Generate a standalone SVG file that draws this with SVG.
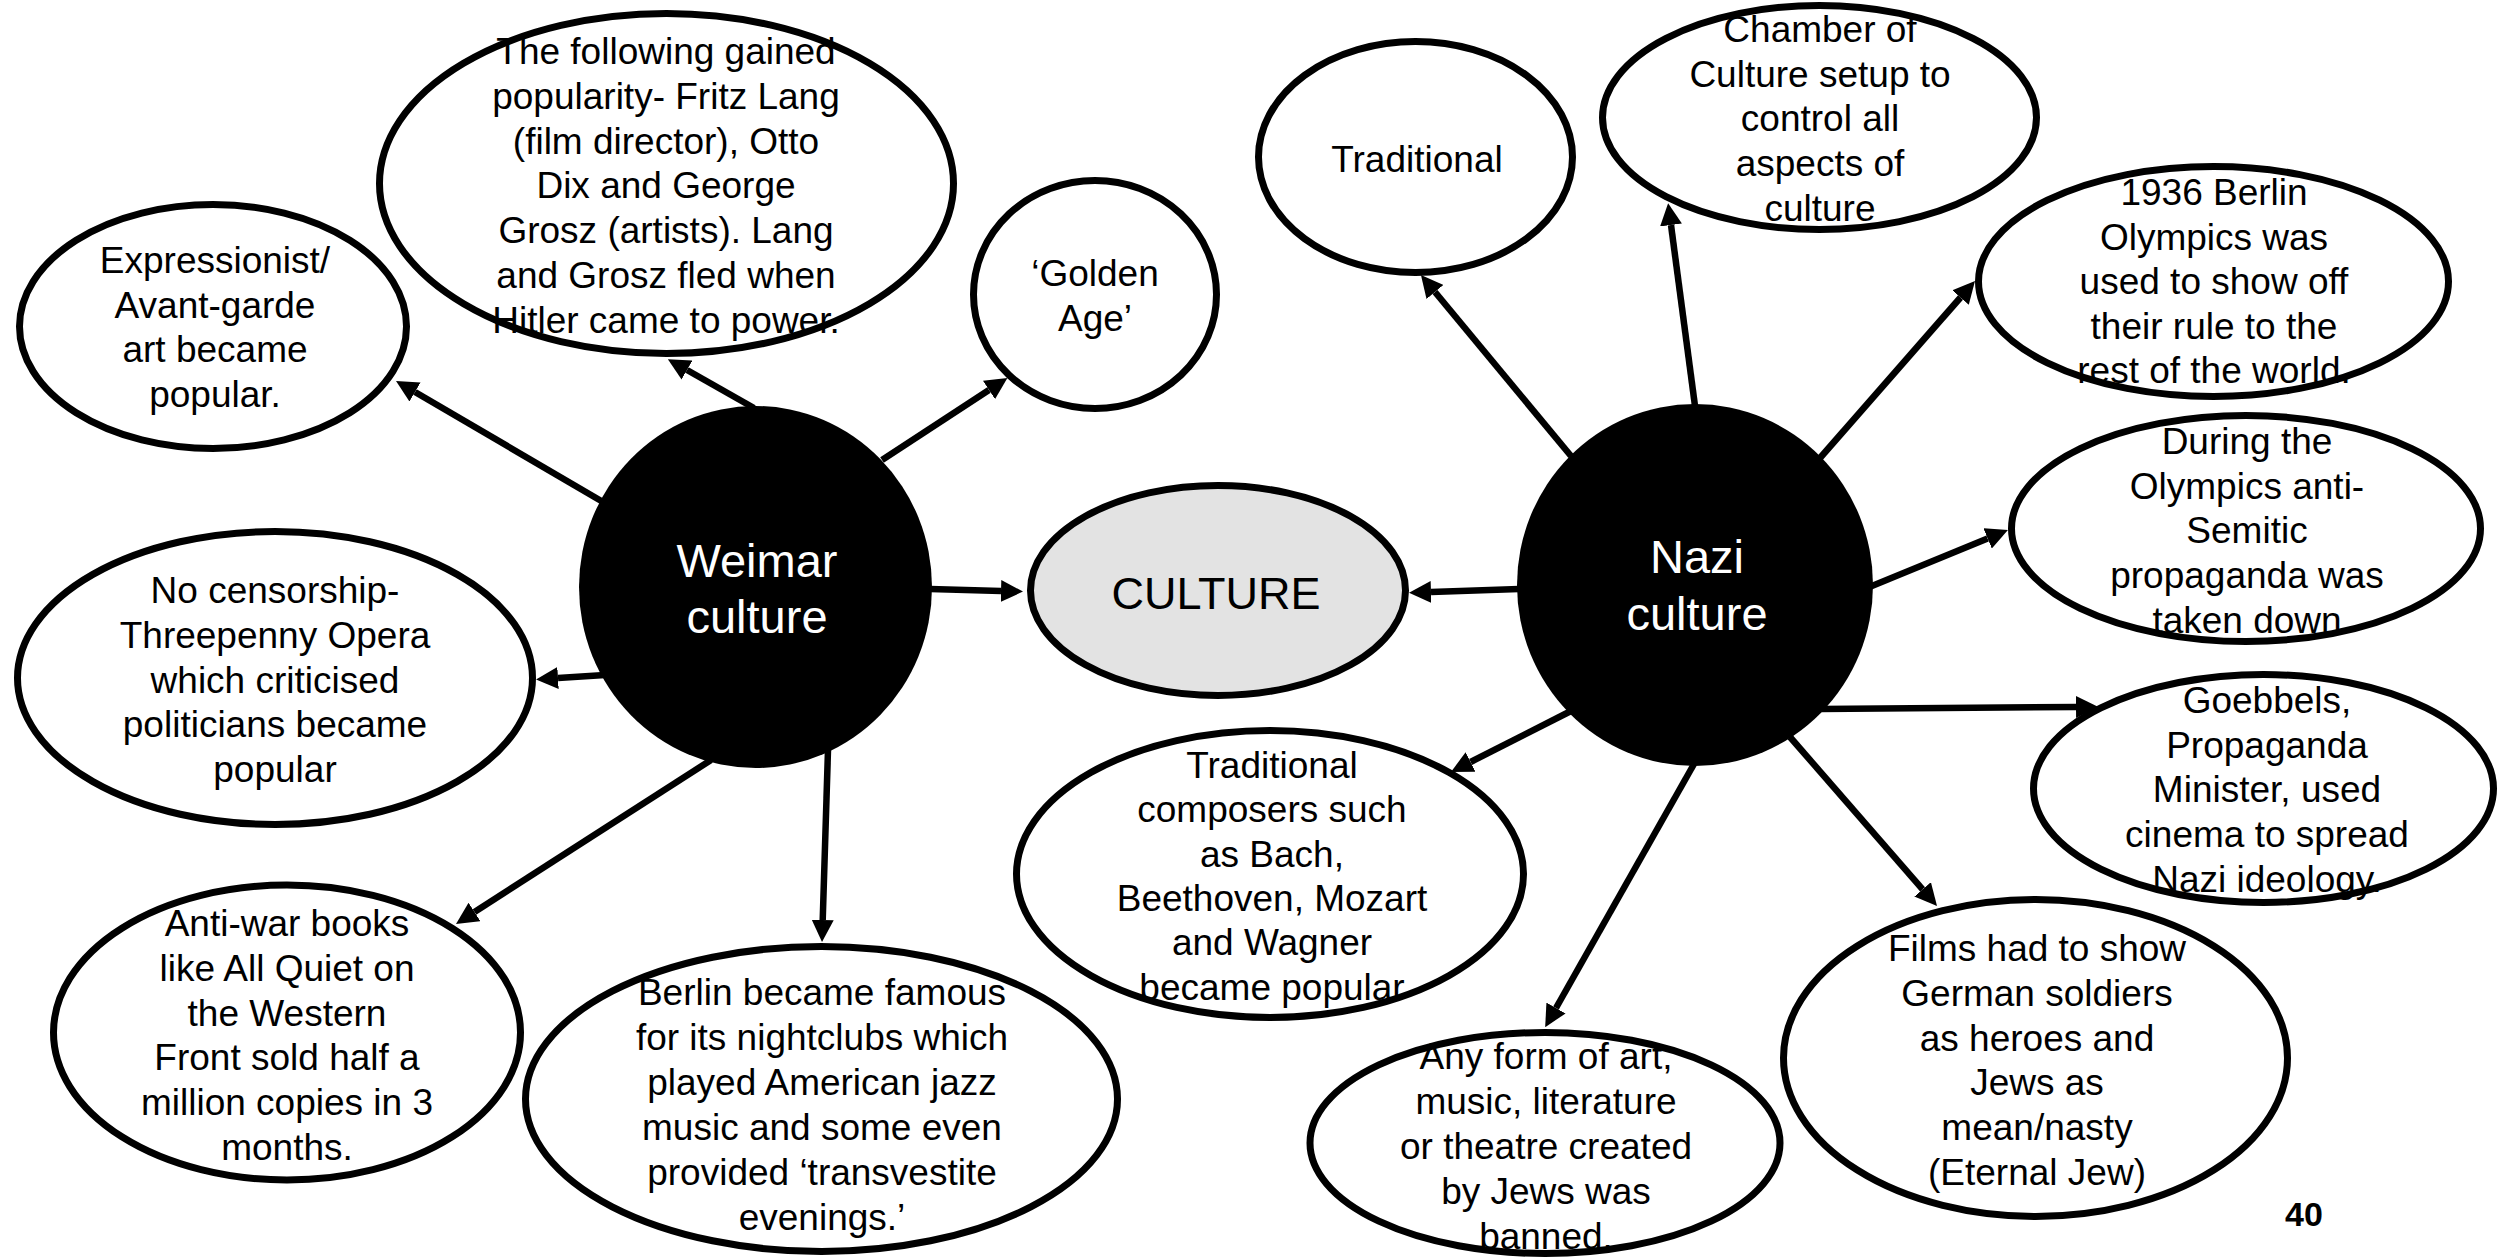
<svg xmlns="http://www.w3.org/2000/svg" width="2499" height="1259" viewBox="0 0 2499 1259">
  <defs>
    <style>
      .bubble { fill: #ffffff; stroke: #000000; stroke-width: 7; }
      .hub { fill: #000000; stroke: none; }
      .core { fill: #e3e3e3; stroke: #000000; stroke-width: 7; }
      .txt { font-family: "Liberation Sans", Arial, sans-serif; font-size: 37px; fill: #000000; text-anchor: middle; }
      .big { font-family: "Liberation Sans", Arial, sans-serif; font-size: 45px; text-anchor: middle; }
      .hubtxt { font-size: 47px; }
      .link { stroke: #000000; stroke-width: 6.5; fill: none; marker-end: url(#head); }
      .pageno { font-family: "Liberation Sans", Arial, sans-serif; font-size: 34px; font-weight: bold; fill: #000000; text-anchor: middle; }
    </style>
    <marker id="head" viewBox="0 0 22 22" markerWidth="22" markerHeight="22" refX="0" refY="11" orient="auto" markerUnits="userSpaceOnUse">
      <path d="M0,0 L22,11 L0,22 z" fill="#000000"/>
    </marker>
  </defs>

  <rect x="0" y="0" width="2499" height="1259" fill="#ffffff"/>

  <!-- Weimar side -->
  <g id="node-expressionist">
    <ellipse class="bubble" cx="213" cy="326.5" rx="193.5" ry="122"/>
    <text class="txt" x="215" y="273">Expressionist/<tspan x="215" dy="44.5">Avant-garde</tspan><tspan x="215" dy="44.5">art became</tspan><tspan x="215" dy="44.5">popular.</tspan></text>
  </g>

  <g id="node-artists">
    <ellipse class="bubble" cx="666.5" cy="183.5" rx="287" ry="170"/>
    <text class="txt" x="666" y="64">The following gained<tspan x="666" dy="44.8">popularity- Fritz Lang</tspan><tspan x="666" dy="44.8">(film director), Otto</tspan><tspan x="666" dy="44.8">Dix and George</tspan><tspan x="666" dy="44.8">Grosz (artists). Lang</tspan><tspan x="666" dy="44.8">and Grosz fled when</tspan><tspan x="666" dy="44.8">Hitler came to power.</tspan></text>
  </g>

  <g id="node-golden-age">
    <ellipse class="bubble" cx="1095" cy="294.5" rx="121.5" ry="114"/>
    <text class="txt" x="1095" y="286">‘Golden<tspan x="1095" dy="45">Age’</tspan></text>
  </g>

  <g id="node-no-censorship">
    <ellipse class="bubble" cx="275" cy="678" rx="257.5" ry="146.5"/>
    <text class="txt" x="275" y="603">No censorship-<tspan x="275" dy="44.8">Threepenny Opera</tspan><tspan x="275" dy="44.8">which criticised</tspan><tspan x="275" dy="44.8">politicians became</tspan><tspan x="275" dy="44.8">popular</tspan></text>
  </g>

  <g id="node-anti-war">
    <ellipse class="bubble" cx="287" cy="1032.5" rx="233.5" ry="147.5"/>
    <text class="txt" x="287" y="936">Anti-war books<tspan x="287" dy="44.8">like All Quiet on</tspan><tspan x="287" dy="44.8">the Western</tspan><tspan x="287" dy="44.8">Front sold half a</tspan><tspan x="287" dy="44.8">million copies in 3</tspan><tspan x="287" dy="44.8">months.</tspan></text>
  </g>

  <g id="node-nightclubs">
    <ellipse class="bubble" cx="821.5" cy="1099" rx="296" ry="152.5"/>
    <text class="txt" x="822" y="1005">Berlin became famous<tspan x="822" dy="45">for its nightclubs which</tspan><tspan x="822" dy="45">played American jazz</tspan><tspan x="822" dy="45">music and some even</tspan><tspan x="822" dy="45">provided ‘transvestite</tspan><tspan x="822" dy="45">evenings.’</tspan></text>
  </g>

  <g id="node-weimar">
    <ellipse class="hub" cx="755.5" cy="587" rx="176.5" ry="181"/>
    <text class="big hubtxt" x="757" y="577" fill="#ffffff">Weimar<tspan x="757" dy="56">culture</tspan></text>
  </g>

  <!-- Centre -->
  <g id="node-culture">
    <ellipse class="core" cx="1218" cy="590.5" rx="187.5" ry="105"/>
    <text class="big" x="1216" y="609" fill="#000000">CULTURE</text>
  </g>

  <!-- Nazi side -->
  <g id="node-nazi">
    <ellipse class="hub" cx="1695" cy="585" rx="178" ry="181"/>
    <text class="big hubtxt" x="1697" y="573" fill="#ffffff">Nazi<tspan x="1697" dy="57">culture</tspan></text>
  </g>

  <g id="node-traditional">
    <ellipse class="bubble" cx="1415.5" cy="157" rx="157" ry="115.5"/>
    <text class="txt" x="1417" y="172">Traditional</text>
  </g>

  <g id="node-chamber">
    <ellipse class="bubble" cx="1819.5" cy="117.5" rx="217" ry="112"/>
    <text class="txt" x="1820" y="42">Chamber of<tspan x="1820" dy="44.7">Culture setup to</tspan><tspan x="1820" dy="44.7">control all</tspan><tspan x="1820" dy="44.7">aspects of</tspan><tspan x="1820" dy="44.7">culture</tspan></text>
  </g>

  <g id="node-olympics">
    <ellipse class="bubble" cx="2213.5" cy="281.5" rx="235" ry="115"/>
    <text class="txt" x="2214" y="205">1936 Berlin<tspan x="2214" dy="44.6">Olympics was</tspan><tspan x="2214" dy="44.6">used to show off</tspan><tspan x="2214" dy="44.6">their rule to the</tspan><tspan x="2214" dy="44.6">rest of the world.</tspan></text>
  </g>

  <g id="node-propaganda-down">
    <ellipse class="bubble" cx="2246" cy="528.5" rx="234.5" ry="113"/>
    <text class="txt" x="2247" y="454">During the<tspan x="2247" dy="44.7">Olympics anti-</tspan><tspan x="2247" dy="44.7">Semitic</tspan><tspan x="2247" dy="44.7">propaganda was</tspan><tspan x="2247" dy="44.7">taken down</tspan></text>
  </g>

  <g id="node-goebbels">
    <ellipse class="bubble" cx="2263.5" cy="788.5" rx="230" ry="114"/>
    <text class="txt" x="2267" y="713">Goebbels,<tspan x="2267" dy="44.7">Propaganda</tspan><tspan x="2267" dy="44.7">Minister, used</tspan><tspan x="2267" dy="44.7">cinema to spread</tspan><tspan x="2267" dy="44.7">Nazi ideology.</tspan></text>
  </g>

  <g id="node-films">
    <ellipse class="bubble" cx="2035.5" cy="1058" rx="252" ry="158.5"/>
    <text class="txt" x="2037" y="961">Films had to show<tspan x="2037" dy="44.8">German soldiers</tspan><tspan x="2037" dy="44.8">as heroes and</tspan><tspan x="2037" dy="44.8">Jews as</tspan><tspan x="2037" dy="44.8">mean/nasty</tspan><tspan x="2037" dy="44.8">(Eternal Jew)</tspan></text>
  </g>

  <g id="node-banned">
    <ellipse class="bubble" cx="1545" cy="1143" rx="235" ry="110.5"/>
    <text class="txt" x="1546" y="1069">Any form of art,<tspan x="1546" dy="45">music, literature</tspan><tspan x="1546" dy="45">or theatre created</tspan><tspan x="1546" dy="45">by Jews was</tspan><tspan x="1546" dy="45">banned.</tspan></text>
  </g>

  <g id="node-composers">
    <ellipse class="bubble" cx="1270" cy="874" rx="253.5" ry="143.5"/>
    <text class="txt" x="1272" y="778">Traditional<tspan x="1272" dy="44.3">composers such</tspan><tspan x="1272" dy="44.3">as Bach,</tspan><tspan x="1272" dy="44.3">Beethoven, Mozart</tspan><tspan x="1272" dy="44.3">and Wagner</tspan><tspan x="1272" dy="44.3">became popular</tspan></text>
  </g>

  <!-- Connectors: each line stops at the arrowhead base; the marker supplies the tip -->
  <g id="connectors">
    <line class="link" x1="603" y1="502" x2="415" y2="392"/>
    <line class="link" x1="754" y1="408" x2="687" y2="370"/>
    <line class="link" x1="882" y1="460" x2="989" y2="390"/>
    <line class="link" x1="930" y1="589" x2="1001" y2="591"/>
    <line class="link" x1="605" y1="675" x2="558" y2="678"/>
    <line class="link" x1="711" y1="760" x2="474.5" y2="912"/>
    <line class="link" x1="828" y1="750" x2="822.7" y2="920"/>
    <line class="link" x1="1519" y1="589" x2="1431" y2="592"/>
    <line class="link" x1="1571" y1="456" x2="1435" y2="292"/>
    <line class="link" x1="1695" y1="406" x2="1671" y2="225"/>
    <line class="link" x1="1820" y1="458" x2="1960.5" y2="297.5"/>
    <line class="link" x1="1867" y1="588" x2="1987.6" y2="538.4"/>
    <line class="link" x1="1820" y1="709" x2="2076" y2="707"/>
    <line class="link" x1="1790" y1="737" x2="1922.6" y2="889.4"/>
    <line class="link" x1="1694" y1="764" x2="1556" y2="1008"/>
    <line class="link" x1="1571" y1="711" x2="1470.6" y2="762"/>
  </g>

  <text class="pageno" x="2304" y="1226">40</text>
</svg>
